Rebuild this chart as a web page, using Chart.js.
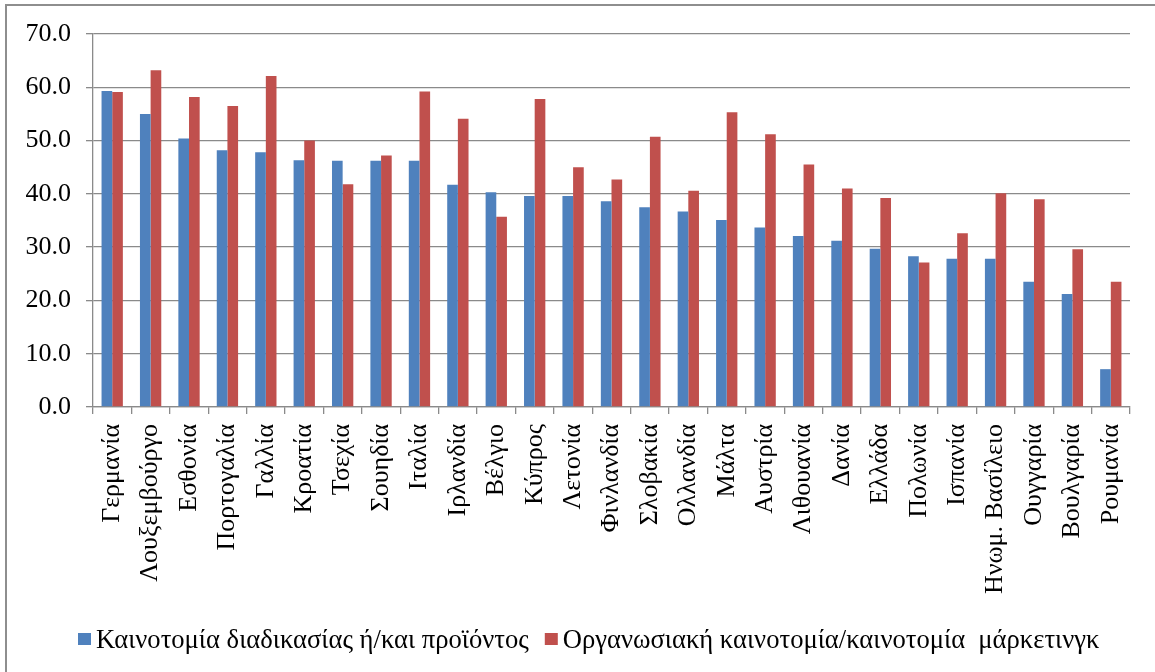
<!doctype html>
<html lang="el">
  <head>
    <meta charset="utf-8">
    <title>Καινοτομία ανά χώρα</title>
    <style>
      * {
        margin: 0;
        padding: 0;
      }
      body {
        width: 1155px;
        height: 672px;
        overflow: hidden;
        background: white;
        position: relative;
      }
      .frame {
        position: absolute;
        left: 5px;
        top: 4px;
        width: 1200px;
        height: 700px;
        border-left: 2px solid #8e8e8e;
        border-top: 2px solid #8e8e8e;
      }
      #myChart {
        position: absolute;
        left: 0;
        top: 0;
      }
    </style>
  </head>
  <body>
    <div class="frame"></div>
    <canvas id="myChart" width="1155" height="672"></canvas>
    <script src="https://cdn.jsdelivr.net/npm/chart.js/dist/chart.umd.min.js"></script>
    <script>
    // data
    const countries = [
      'Γερμανία', 'Λουξεμβούργο', 'Εσθονία', 'Πορτογαλία', 'Γαλλία', 'Κροατία',
      'Τσεχία', 'Σουηδία', 'Ιταλία', 'Ιρλανδία', 'Βέλγιο', 'Κύπρος', 'Λετονία',
      'Φινλανδία', 'Σλοβακία', 'Ολλανδία', 'Μάλτα', 'Αυστρία', 'Λιθουανία',
      'Δανία', 'Ελλάδα', 'Πολωνία', 'Ισπανία', 'Ηνωμ. Βασίλειο', 'Ουγγαρία',
      'Βουλγαρία', 'Ρουμανία'
    ];
    const productProcess = [
      59.3, 55.0, 50.4, 48.2, 47.8, 46.3, 46.2, 46.2, 46.2, 41.7, 40.3, 39.6, 39.6,
      38.6, 37.5, 36.7, 35.1, 33.7, 32.1, 31.2, 29.7, 28.3, 27.8, 27.8, 23.5,
      21.2, 7.1
    ];
    const organisationMarketing = [
      59.1, 63.2, 58.2, 56.5, 62.1, 50.0, 41.8, 47.2, 59.2, 54.1, 35.7, 57.8, 45.0,
      42.7, 50.7, 40.6, 55.3, 51.2, 45.5, 41.0, 39.2, 27.1, 32.6, 40.1, 39.0,
      29.6, 23.5
    ];
    const seriesNames = [
      'Καινοτομία διαδικασίας ή/και προϊόντος',
      'Οργανωσιακή καινοτομία/καινοτομία  μάρκετινγκ'
    ];
    const yTicks = [0, 10, 20, 30, 40, 50, 60, 70];

    const serif = 'Liberation Serif';
    const gridGrey = '#8a8a8a';

    // legend drawn under the axis labels, box + text per series
    const bottomLegend = {
      id: 'bottomLegend',
      afterDraw(chart) {
        const ctx = chart.ctx;
        ctx.save();
        ctx.font = '26.6px "' + serif + '"';
        ctx.textBaseline = 'alphabetic';
        ctx.textAlign = 'left';
        let x = 78;
        const baseline = 648;
        chart.data.datasets.forEach(ds => {
          ctx.fillStyle = ds.backgroundColor;
          ctx.fillRect(x, 633, 13, 12);
          x += 18;
          ctx.fillStyle = '#000';
          ctx.fillText(ds.label, x, baseline);
          x += ctx.measureText(ds.label).width + 16;
        });
        ctx.restore();
      }
    };

    // setup
    const data = {
      labels: countries,
      datasets: [{
        label: seriesNames[0],
        data: productProcess,
        backgroundColor: '#4F81BD'
      }, {
        label: seriesNames[1],
        data: organisationMarketing,
        backgroundColor: '#C0504D'
      }]
    };

    // config
    const config = {
      type: 'bar',
      data,
      options: {
        responsive: false,
        animation: false,
        datasets: {
          bar: {
            categoryPercentage: 0.555,
            barPercentage: 1
          }
        },
        layout: {
          padding: { top: 34, right: 25, bottom: 0, left: 0 }
        },
        scales: {
          x: {
            offset: true,
            grid: {
              offset: true,
              drawOnChartArea: false,
              drawTicks: true,
              tickLength: 7,
              color: gridGrey,
              lineWidth: 1.3
            },
            border: { color: gridGrey, width: 1.3 },
            ticks: {
              autoSkip: false,
              minRotation: 90,
              maxRotation: 90,
              padding: 10,
              color: '#000',
              font: { family: serif, size: 26 }
            },
            afterFit(scale) {
              scale.height = 265;
            }
          },
          y: {
            min: 0,
            max: 70,
            afterBuildTicks(scale) {
              scale.ticks = yTicks.map(v => ({ value: v }));
            },
            grid: {
              color: gridGrey,
              lineWidth: 1.3,
              tickLength: 7
            },
            border: { color: gridGrey, width: 1.3 },
            ticks: {
              padding: 15,
              color: '#000',
              font: { family: serif, size: 26 },
              callback: v => Number(v).toFixed(1)
            },
            afterFit(scale) {
              scale.width = 93;
            }
          }
        },
        plugins: {
          legend: { display: false },
          tooltip: { enabled: false }
        }
      },
      plugins: [bottomLegend]
    };

    // render init block
    const myChart = new Chart(
      document.getElementById('myChart'),
      config
    );
    </script>
  </body>
</html>
